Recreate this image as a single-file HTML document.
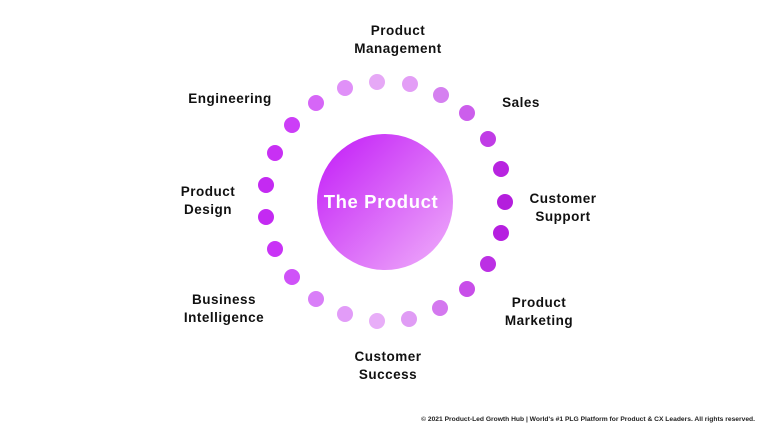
<!DOCTYPE html>
<html><head><meta charset="utf-8"><style>
html,body{margin:0;padding:0;background:#fff}
body{width:768px;height:432px;position:relative;overflow:hidden;font-family:"Liberation Sans",sans-serif}
.l{position:absolute;font-weight:bold;font-size:13.5px;letter-spacing:0.5px;line-height:18px;color:#111;text-align:center;transform:translateX(-50%);white-space:nowrap}
.f{position:absolute;right:13px;top:416px;font-weight:bold;font-size:6.7px;color:#222;white-space:nowrap}
</style></head><body>
<svg width="768" height="432" style="position:absolute;left:0;top:0">
<defs><linearGradient id="g" x1="0" y1="0" x2="1" y2="1"><stop offset="0" stop-color="#c21af7"/><stop offset="1" stop-color="#f0b0fa"/></linearGradient></defs>
<circle cx="385" cy="202" r="68" fill="url(#g)"/>
<text x="381" y="208" text-anchor="middle" font-family="Liberation Sans" font-weight="bold" font-size="18.5" letter-spacing="0.6" fill="#fff">The Product</text>
<g>
<circle cx="377" cy="82" r="8" fill="#e6a8f6"/>
<circle cx="410" cy="84" r="8" fill="#e39ef6"/>
<circle cx="441" cy="95" r="8" fill="#d580f0"/>
<circle cx="467" cy="113" r="8" fill="#cc5eec"/>
<circle cx="488" cy="139" r="8" fill="#c03ce6"/>
<circle cx="501" cy="169" r="8" fill="#b824e0"/>
<circle cx="505" cy="202" r="8" fill="#b41edd"/>
<circle cx="501" cy="233" r="8" fill="#b61fe0"/>
<circle cx="488" cy="264" r="8" fill="#bc30e4"/>
<circle cx="467" cy="289" r="8" fill="#c84ee9"/>
<circle cx="440" cy="308" r="8" fill="#d478ef"/>
<circle cx="409" cy="319" r="8" fill="#e09cf5"/>
<circle cx="377" cy="321" r="8" fill="#e8aef8"/>
<circle cx="345" cy="314" r="8" fill="#e29cf8"/>
<circle cx="316" cy="299" r="8" fill="#d97ef8"/>
<circle cx="292" cy="277" r="8" fill="#cf52f8"/>
<circle cx="275" cy="249" r="8" fill="#c934f6"/>
<circle cx="266" cy="217" r="8" fill="#c42af2"/>
<circle cx="266" cy="185" r="8" fill="#c42af2"/>
<circle cx="275" cy="153" r="8" fill="#c830f4"/>
<circle cx="292" cy="125" r="8" fill="#cc3ef7"/>
<circle cx="316" cy="103" r="8" fill="#d666f7"/>
<circle cx="345" cy="88" r="8" fill="#e090f8"/>
</g>
</svg>
<div class="l" style="left:398px;top:22px">Product<br>Management</div>
<div class="l" style="left:230px;top:90px">Engineering</div>
<div class="l" style="left:521px;top:94px">Sales</div>
<div class="l" style="left:563px;top:190px">Customer<br>Support</div>
<div class="l" style="left:208px;top:183px">Product<br>Design</div>
<div class="l" style="left:224px;top:291px">Business<br>Intelligence</div>
<div class="l" style="left:539px;top:294px">Product<br>Marketing</div>
<div class="l" style="left:388px;top:348px">Customer<br>Success</div>
<div class="f">© 2021 Product-Led Growth Hub | World's #1 PLG Platform for Product &amp; CX Leaders. All rights reserved.</div>
</body></html>
